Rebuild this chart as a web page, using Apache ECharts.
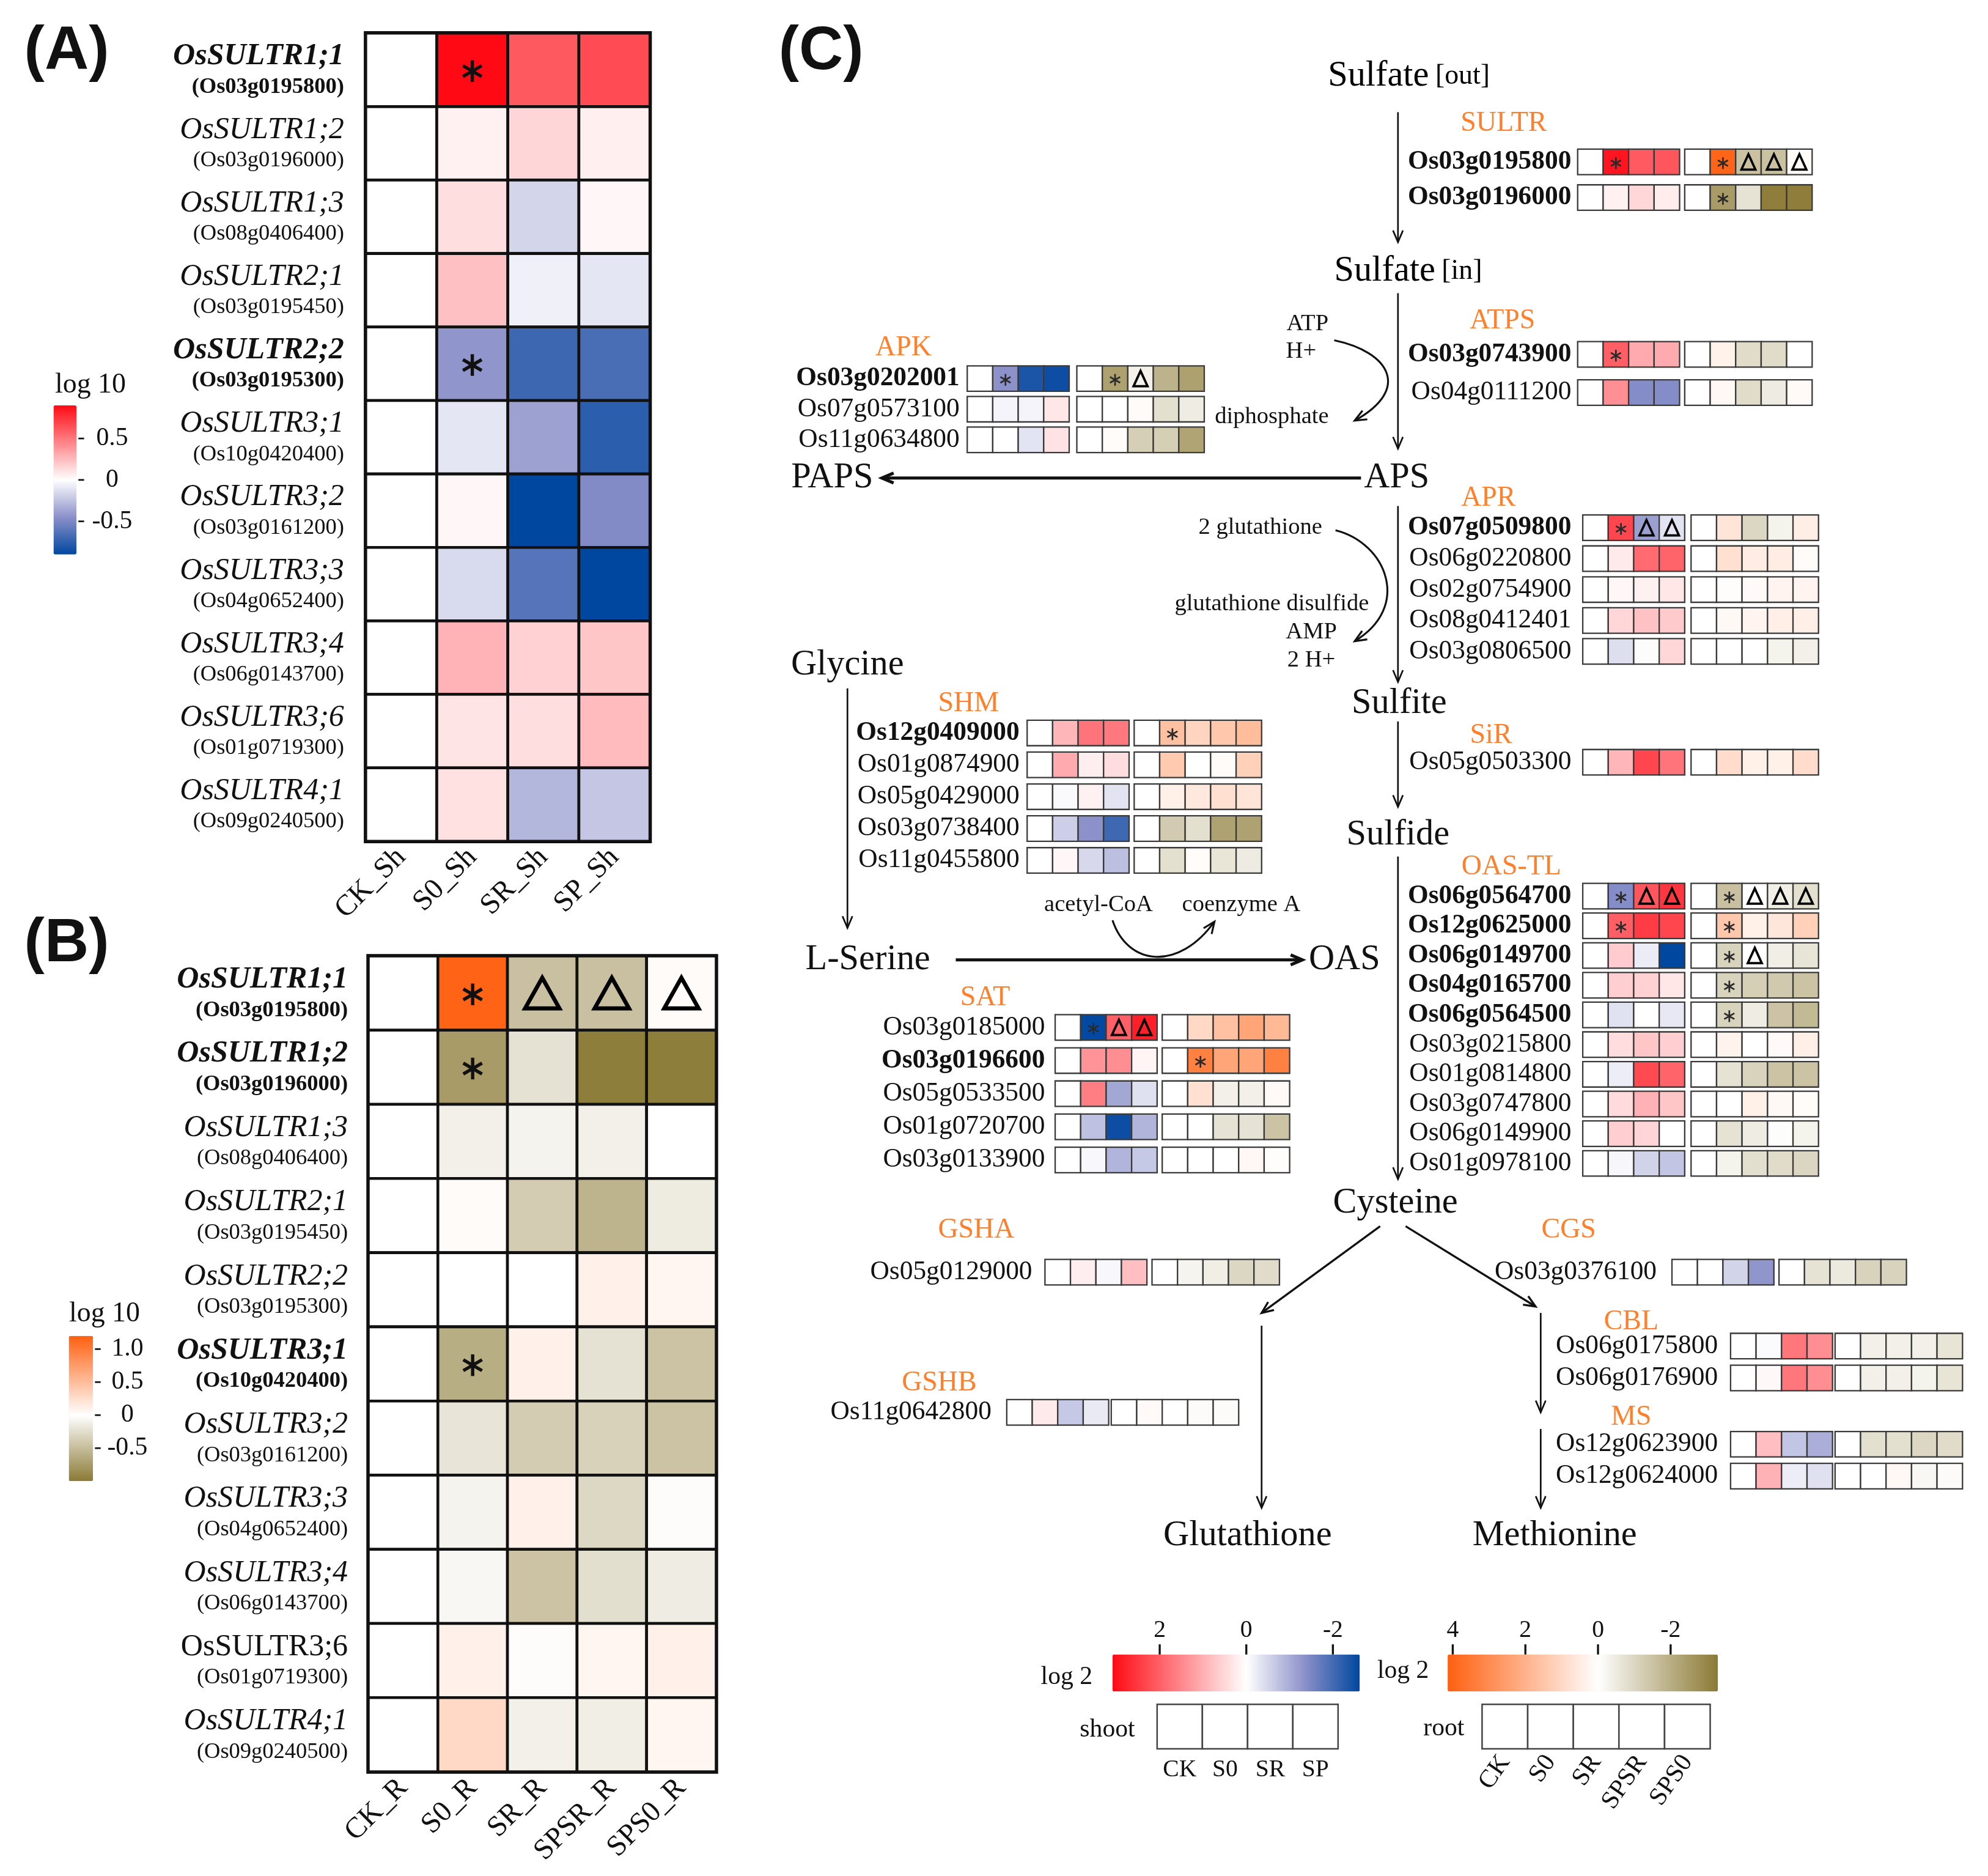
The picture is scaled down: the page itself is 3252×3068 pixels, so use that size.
<!DOCTYPE html>
<html><head><meta charset="utf-8">
<script src="https://cdn.jsdelivr.net/npm/echarts@6/dist/echarts.min.js"></script>
<style>html,body{margin:0;padding:0;background:#fff}#c{width:3252px;height:3068px}</style>
</head><body><div id="c"></div>
<script>
const S = 3252 / 1560, P = v => v * S;
const SERIF = 'Liberation Serif', SANS = 'Liberation Sans', ORANGE = '#ff7f2a';

// ================= DATA =================
// Panels A / B
const sultrNames = ['OsSULTR1;1','OsSULTR1;2','OsSULTR1;3','OsSULTR2;1','OsSULTR2;2','OsSULTR3;1','OsSULTR3;2','OsSULTR3;3','OsSULTR3;4','OsSULTR3;6','OsSULTR4;1'];
const sultrIds = ['Os03g0195800','Os03g0196000','Os08g0406400','Os03g0195450','Os03g0195300','Os10g0420400','Os03g0161200','Os04g0652400','Os06g0143700','Os01g0719300','Os09g0240500'];
const aCats = ['CK_Sh','S0_Sh','SR_Sh','SP_Sh'];
const bCats = ['CK_R','S0_R','SR_R','SPSR_R','SPS0_R'];
const aValues = [
  [0, 0.90, 0.61, 0.66],
  [0, 0.05, 0.15, 0.06],
  [0, 0.12, -0.17, 0.03],
  [0, 0.23, -0.06, -0.10],
  [0, -0.43, -0.70, -0.66],
  [0, -0.10, -0.38, -0.76],
  [0, 0.03, -0.90, -0.48],
  [0, -0.15, -0.62, -0.90],
  [0, 0.28, 0.17, 0.21],
  [0, 0.10, 0.12, 0.25],
  [0, 0.11, -0.29, -0.23]
];
const aMarks = ['.*..','....','....','....','.*..','....','....','....','....','....','....'];
const aBold = [1,0,0,0,1,0,0,0,0,0,0];
const bValues = [
  [0, 1.17, -0.47, -0.47, 0.03],
  [0, -0.75, -0.22, -0.97, -0.97],
  [0, -0.11, -0.09, -0.11, 0],
  [0, 0.03, -0.38, -0.57, -0.15],
  [0, 0, 0, 0.11, 0.07],
  [0, -0.61, 0.11, -0.22, -0.45],
  [0, -0.20, -0.38, -0.34, -0.45],
  [0, -0.09, 0.11, -0.29, -0.02],
  [0, -0.06, -0.45, -0.24, -0.14],
  [0, 0.11, -0.02, 0.07, 0.11],
  [0, 0.29, -0.11, -0.13, 0.07]
];
const bMarks = ['.*DDD','.*...','.....','.....','.....','.*...','.....','.....','.....','.....','.....'];
const bBold = [1,1,0,0,0,1,0,0,0,0,0];
const bUpright = [0,0,0,0,0,0,0,0,0,1,0];
const aTicks = [0.5, 0, -0.5], aTickLabels = ['0.5','0','-0.5'];
const bTicks = [1.0, 0.5, 0, -0.5], bTickLabels = ['1.0','0.5','0','-0.5'];

// Panel C
const shootCats = ['CK','S0','SR','SP'];
const rootCats = ['CK','S0','SR','SPSR','SPS0'];
const cShootTicks = [2, 0, -2];
const cRootTicks = [4, 2, 0, -2];

const sultrGenes = ['Os03g0195800','Os03g0196000'];
const sultrBold = [1,1];
const sultrShoot = [[0,2.95,2.08,2.14],[0,0.18,0.51,0.24]];
const sultrRoot = [[0,4.0,-1.55,-1.55,0.1],[0,-2.47,-0.71,-3.2,-3.2]];
const sultrSM = ['.*..','....'], sultrRM = ['.*DDD','.*...'];

const atpsGenes = ['Os03g0743900','Os04g0111200'];
const atpsBold = [1,0];
const atpsShoot = [[0,2.02,1.07,1.07],[0,1.41,-1.41,-1.41]];
const atpsRoot = [[0,0.34,-0.88,-0.88,0],[0,0.18,-0.88,-0.48,0.13]];
const atpsSM = ['.*..','....'], atpsRM = ['.....','.....'];

const apkGenes = ['Os03g0202001','Os07g0573100','Os11g0634800'];
const apkBold = [1,0,0];
const apkShoot = [[0,-1.34,-2.38,-2.5],[0,-0.13,-0.13,0.32],[0,0,-0.33,0.36]];
const apkRoot = [[0,-2.33,-0.34,-1.9,-2.33],[0,0,0.1,-0.77,-0.46],[0,0.08,-1.2,-1.2,-2.25]];
const apkSM = ['.*..','....','....'], apkRM = ['.*D..','.....','.....'];

const aprGenes = ['Os07g0509800','Os06g0220800','Os02g0754900','Os08g0412401','Os03g0806500'];
const aprBold = [1,0,0,0,0];
const aprShoot = [[0,2.34,-1.15,-0.33],[0,0.26,1.87,1.95],[0,0.11,0.18,0.31],[0,0.51,0.77,0.67],[0,-0.39,-0.04,0.51]];
const aprRoot = [[0,0.67,-1.0,-0.31,0.44],[0,0.8,0.46,0.46,0.1],[0,0.05,0.13,0.28,0.28],[0,0.15,0.28,0.41,0.41],[0,0,0,-0.31,-0.37]];
const aprSM = ['.*DD','....','....','....','....'], aprRM = ['.....','.....','.....','.....','.....'];

const sirGenes = ['Os05g0503300'];
const sirBold = [0];
const sirShoot = [[0,0.92,2.34,1.75]];
const sirRoot = [[0,0.9,0.39,0.39,0.9]];
const sirSM = ['....'], sirRM = ['.....'];

const oastlGenes = ['Os06g0564700','Os12g0625000','Os06g0149700','Os04g0165700','Os06g0564500','Os03g0215800','Os01g0814800','Os03g0747800','Os06g0149900','Os01g0978100'];
const oastlBold = [1,1,1,1,1,0,0,0,0,0];
const oastlShoot = [
  [0,-1.41,2.14,2.53],[0,2.02,2.47,2.34],[0,0.65,-0.23,-2.62],[0,0.62,0.58,0.31],[0,-0.35,0,-0.28],
  [0,0.43,0.72,0.62],[0,-0.22,2.28,1.95],[0,0.45,0.97,0.72],[0,0.62,0.53,0],[0,-0.11,-0.54,-0.71]
];
const oastlRoot = [
  [0,-1.56,0,-0.43,-0.77],[0,1.42,0.39,0.64,1.21],[0,-1.1,0,-0.43,-0.65],[0,-1.1,-1.2,-1.34,-1.48],[0,-1.1,-0.46,-1.48,-1.73],
  [0,0.31,0,0.13,0.41],[0,-0.71,-1.1,-1.48,-1.48],[0,0,0.39,0.15,0.08],[0,-0.71,-0.46,-0.05,-0.31],[0,-0.31,-0.8,-0.88,-1.02]
];
const oastlSM = ['.*DD','.*..','....','....','....','....','....','....','....','....'];
const oastlRM = ['.*DDD','.*...','.*D..','.*...','.*...','.....','.....','.....','.....','.....'];

const shmGenes = ['Os12g0409000','Os01g0874900','Os05g0429000','Os03g0738400','Os11g0455800'];
const shmBold = [1,0,0,0,0];
const shmShoot = [[0,0.92,1.75,1.7],[0,1.07,0.21,0.43],[0,-0.06,0.18,-0.33],[0,-0.58,-1.34,-2.05],[0,0.11,-0.47,-0.78]];
const shmRoot = [[0,1.62,1.1,1.42,1.73],[0,1.37,0,0.1,1.21],[0,0.39,0.59,0.8,0.7],[0,-1.28,-0.77,-2.3,-2.3],[0,-0.77,0.08,-0.63,-0.48]];
const shmSM = ['....','....','....','....','....'], shmRM = ['.*...','.....','.....','.....','.....'];

const satGenes = ['Os03g0185000','Os03g0196600','Os05g0533500','Os01g0720700','Os03g0133900'];
const satBold = [0,1,0,0,0];
const satShoot = [[0,-2.58,2.02,2.83],[0,1.36,1.43,0.13],[0,1.63,-1.07,-0.37],[0,-0.76,-2.5,-0.91],[0,-0.08,-0.91,-0.66]];
const satRoot = [[0,1.0,1.62,2.35,1.83],[0,3.27,2.35,2.35,3.27],[0,0.8,-0.37,-0.37,0.13],[0,0,-0.71,-0.71,-1.48],[0,0,0,0.18,0.05]];
const satSM = ['.*DD','....','....','....','....'], satRM = ['.....','.*...','.....','.....','.....'];

const gshaGenes = ['Os05g0129000'];
const gshaBold = [0];
const gshaShoot = [[0,0.21,-0.08,0.82]];
const gshaRoot = [[0,-0.28,-0.43,-1.0,-0.88]];

const cgsGenes = ['Os03g0376100'];
const cgsBold = [0];
const cgsShoot = [[0,0,-0.52,-1.29]];
const cgsRoot = [[0,-0.71,-0.54,-1.1,-1.1]];

const gshbGenes = ['Os11g0642800'];
const gshbBold = [0];
const gshbShoot = [[0,0.26,-0.66,-0.25]];
const gshbRoot = [[0,0.13,0,-0.09,-0.09]];

const cblGenes = ['Os06g0175800','Os06g0176900'];
const cblBold = [0,0];
const cblShoot = [[0,-0.05,1.73,1.43],[0,0.09,1.73,1.43]];
const cblRoot = [[0,-0.37,-0.37,-0.37,-0.65],[0,-0.37,-0.37,-0.31,-0.65]];

const msGenes = ['Os12g0623900','Os12g0624000'];
const msBold = [0,0];
const msShoot = [[0,0.82,-0.71,-0.98],[0,0.97,-0.22,-0.37]];
const msRoot = [[0,-0.77,-0.77,-1.0,-0.88],[0,0,0.18,-0.2,-0.09]];

// ================= COLOUR SCALES =================
const vmA = {min:-0.9, max:0.9, stops:[[-0.9,'#0047a0'],[-0.45,'#8b90c9'],[0,'#ffffff'],[0.9,'#ff0a14']]};
const vmB = {min:-1.0, max:1.2, stops:[[-1.0,'#8b7a35'],[0,'#ffffff'],[1.2,'#ff6010']]};
const vmCs = {min:-2.62, max:3.09, stops:[[-2.62,'#0047a0'],[-1.35,'#8b90c9'],[0,'#ffffff'],[3.09,'#ff0a14']]};
const vmCr = {min:-3.3, max:4.14, stops:[[-3.3,'#8b7a35'],[0,'#ffffff'],[4.14,'#ff6010']]};

function hex2rgb(h){return [parseInt(h.slice(1,3),16),parseInt(h.slice(3,5),16),parseInt(h.slice(5,7),16)];}
function interp(stops, v){
  if (v <= stops[0][0]) return stops[0][1];
  for (let i = 1; i < stops.length; i++) {
    if (v <= stops[i][0] + 1e-9) {
      const v0 = stops[i-1][0], v1 = stops[i][0];
      const a = hex2rgb(stops[i-1][1]), b = hex2rgb(stops[i][1]);
      const t = Math.min(1, Math.max(0, (v - v0) / (v1 - v0)));
      return 'rgb(' + a.map((x,k) => Math.round(x + (b[k]-x)*t)).join(',') + ')';
    }
  }
  return stops[stops.length-1][1];
}
// sample the gradient every 0.01 so that the value 0 falls exactly on a white sample
function ramp(vm){
  const n = Math.round((vm.max - vm.min) / 0.01) + 1, out = [];
  for (let i = 0; i < n; i++) out.push(interp(vm.stops, vm.min + (vm.max - vm.min) * i / (n - 1)));
  return out;
}

// ================= BUILDERS =================
const grids = [], xAxes = [], yAxes = [], series = [], G = [];
const toCells = rows => rows.flatMap((r, y) => r.map((v, x) => [x, y, v]));

function cellRenderer(marks, o){
  return function(params, api){
    const xi = api.value(0), yi = api.value(1);
    const c = api.coord([xi, yi]), s = api.size([1, 1]);
    const w = s[0], h = o.full ? s[1] : Math.min(o.h, s[1] - P(3));
    const fill = o.fixed || api.visual('color');
    const ch = [{type:'rect', shape:{x:c[0]-w/2, y:c[1]-h/2, width:w, height:h}, style:{fill, stroke:o.stroke, lineWidth:o.lw}}];
    const m = marks ? (marks[yi] || '')[xi] : '';
    if (m === '*') {
      for (const ang of [90, 30, 150]) {
        const a = ang * Math.PI / 180;
        ch.push({type:'line', shape:{x1:c[0]-o.ar*Math.cos(a), y1:c[1]+o.ady-o.ar*Math.sin(a), x2:c[0]+o.ar*Math.cos(a), y2:c[1]+o.ady+o.ar*Math.sin(a)}, style:{stroke:o.ac, lineWidth:o.aw}});
      }
    }
    if (m === 'D') {
      ch.push({type:'polygon', shape:{points:[[c[0], c[1]-o.th/2], [c[0]-o.tw/2, c[1]+o.th/2], [c[0]+o.tw/2, c[1]+o.th/2]]}, style:{fill:'none', stroke:'#000', lineWidth:o.tl}});
    }
    return {type:'group', children:ch};
  };
}

function T(x, y, text, size, o){
  o = o || {};
  G.push({type:'text', x:P(x), y:P(y), z:10, style:{text, fontFamily:o.font || SERIF, fontSize:P(size), fontWeight:o.bold ? 'bold' : 'normal', fill:o.fill || '#111', align:o.align || 'center', verticalAlign:'middle'}});
}
function Ln(x1, y1, x2, y2, w){ G.push({type:'line', shape:{x1:P(x1), y1:P(y1), x2:P(x2), y2:P(y2)}, style:{stroke:'#111', lineWidth:P(w || 1.3)}}); }
function Head(x, y, dx, dy, w){
  const a = Math.atan2(dy, dx), L = 10, sp = 0.40;
  const pts = [[x - L*Math.cos(a-sp), y - L*Math.sin(a-sp)], [x, y], [x - L*Math.cos(a+sp), y - L*Math.sin(a+sp)]].map(p => [P(p[0]), P(p[1])]);
  G.push({type:'polyline', shape:{points:pts}, style:{stroke:'#111', lineWidth:P(w || 1.3), fill:'none'}});
}
function Arrow(x1, y1, x2, y2, w){ Ln(x1, y1, x2, y2, w); Head(x2, y2, x2-x1, y2-y1, w); }
function Curve(x1, y1, c1x, c1y, c2x, c2y, x2, y2, w){
  G.push({type:'bezierCurve', shape:{x1:P(x1), y1:P(y1), cpx1:P(c1x), cpy1:P(c1y), cpx2:P(c2x), cpy2:P(c2y), x2:P(x2), y2:P(y2)}, style:{stroke:'#111', lineWidth:P(w || 1.3), fill:'none'}});
  Head(x2, y2, x2-c2x, y2-c2y, w);
}

// ---------- Panel A ----------
const richAB = {
  nb:{fontFamily:SERIF, fontStyle:'italic', fontWeight:'bold', fontSize:P(24), lineHeight:P(27), color:'#111'},
  ni:{fontFamily:SERIF, fontStyle:'italic', fontSize:P(24), lineHeight:P(27), color:'#111'},
  nr:{fontFamily:SERIF, fontSize:P(24), lineHeight:P(27), color:'#111'},
  ib:{fontFamily:SERIF, fontWeight:'bold', fontSize:P(17.5), lineHeight:P(21), color:'#111'},
  ir:{fontFamily:SERIF, fontSize:P(17.5), lineHeight:P(21), color:'#111'}
};
const ABcell = {full:true, stroke:'#111', lw:P(2.2), ar:P(8.5), aw:P(2.6), ady:P(1), ac:'#111', tw:P(27), th:P(24), tl:P(3.2)};

grids.push({left:P(287), top:P(26), width:P(223), height:P(634), show:true, borderColor:'#000', borderWidth:P(3)});
xAxes.push({type:'category', gridIndex:0, data:aCats, axisLine:{show:false}, axisTick:{show:false},
  axisLabel:{rotate:45, interval:0, margin:P(9), fontFamily:SERIF, fontSize:P(23), color:'#111'}});
yAxes.push({type:'category', gridIndex:0, data:sultrNames, inverse:true, axisLine:{show:false}, axisTick:{show:false},
  axisLabel:{interval:0, margin:P(17), align:'right', rich:richAB,
    formatter:(v, i) => aBold[i] ? `{nb|${v}}\n{ib|(${sultrIds[i]})}` : `{ni|${v}}\n{ir|(${sultrIds[i]})}`}});
series.push({type:'custom', xAxisIndex:0, yAxisIndex:0, encode:{x:0, y:1}, data:toCells(aValues), renderItem:cellRenderer(aMarks, ABcell)});
const idxA = series.length - 1;

// ---------- Panel B ----------
grids.push({left:P(289), top:P(750), width:P(273), height:P(640), show:true, borderColor:'#000', borderWidth:P(3)});
xAxes.push({type:'category', gridIndex:1, data:bCats, axisLine:{show:false}, axisTick:{show:false},
  axisLabel:{rotate:45, interval:0, margin:P(9), fontFamily:SERIF, fontSize:P(23), color:'#111'}});
yAxes.push({type:'category', gridIndex:1, data:sultrNames, inverse:true, axisLine:{show:false}, axisTick:{show:false},
  axisLabel:{interval:0, margin:P(16), align:'right', rich:richAB,
    formatter:(v, i) => bBold[i] ? `{nb|${v}}\n{ib|(${sultrIds[i]})}` : (bUpright[i] ? `{nr|${v}}\n{ir|(${sultrIds[i]})}` : `{ni|${v}}\n{ir|(${sultrIds[i]})}`)}});
series.push({type:'custom', xAxisIndex:1, yAxisIndex:1, encode:{x:0, y:1}, data:toCells(bValues), renderItem:cellRenderer(bMarks, ABcell)});
const idxB = series.length - 1;

// ---------- Panel C blocks ----------
const LAYOUT = {
  SULTR:   {lx:1180, ly:97,  lr:1233, sx:1238, rx:1322, y0:127,  sp:28},
  ATPS:    {lx:1179, ly:252, lr:1233, sx:1238, rx:1322, y0:278,  sp:30},
  APK:     {lx:709,  ly:273, lr:753,  sx:759,  rx:845,  y0:297,  sp:24},
  APR:     {lx:1168, ly:391, lr:1233, sx:1242, rx:1327, y0:414,  sp:24.25},
  SiR:     {lx:1170, ly:577, lr:1233, sx:1242, rx:1327, y0:598,  sp:24},
  'OAS-TL':{lx:1186, ly:680, lr:1233, sx:1242, rx:1327, y0:703,  sp:23.3},
  SHM:     {lx:760,  ly:552, lr:800,  sx:806,  rx:890,  y0:575,  sp:25},
  SAT:     {lx:773,  ly:783, lr:820,  sx:828,  rx:912,  y0:806,  sp:26},
  GSHA:    {lx:766,  ly:965, lr:810,  sx:820,  rx:904,  y0:998,  sp:25},
  CGS:     {lx:1231, ly:965, lr:1300, sx:1312, rx:1396, y0:998,  sp:25},
  GSHB:    {lx:737,  ly:1085,lr:778,  sx:790,  rx:872,  y0:1108, sp:25},
  CBL:     {lx:1280, ly:1037,lr:1348, sx:1358, rx:1440, y0:1056, sp:25},
  MS:      {lx:1280, ly:1112,lr:1348, sx:1358, rx:1440, y0:1133, sp:25}
};
const Ccell = {full:false, h:P(20), stroke:'#3a3a3a', lw:P(1.1), ar:P(4.6), aw:P(1.3), ady:P(1), ac:'#2a2a2a', tw:P(11), th:P(12), tl:P(1.8)};
const shootIdx = [], rootIdx = [];
function addBlock(key, genes, bold, shoot, root, sm, rm){
  const L = LAYOUT[key], n = genes.length;
  const top = P(L.y0 - L.sp/2), h = P(n * L.sp);
  grids.push({left:P(L.sx), top, width:P(80), height:h});
  let gi = grids.length - 1;
  xAxes.push({type:'category', gridIndex:gi, data:shootCats, show:false});
  yAxes.push({type:'category', gridIndex:gi, data:genes, inverse:true, axisLine:{show:false}, axisTick:{show:false},
    axisLabel:{interval:0, margin:P(L.sx - L.lr), formatter:(v, i) => bold[i] ? `{b|${v}}` : `{r|${v}}`,
      rich:{b:{fontFamily:SERIF, fontWeight:'bold', fontSize:P(20.8), color:'#111'}, r:{fontFamily:SERIF, fontSize:P(20.8), color:'#111'}}}});
  series.push({type:'custom', xAxisIndex:gi, yAxisIndex:gi, encode:{x:0, y:1}, data:toCells(shoot), renderItem:cellRenderer(sm, Ccell)});
  shootIdx.push(series.length - 1);
  grids.push({left:P(L.rx), top, width:P(100), height:h});
  gi = grids.length - 1;
  xAxes.push({type:'category', gridIndex:gi, data:rootCats, show:false});
  yAxes.push({type:'category', gridIndex:gi, data:genes, inverse:true, show:false});
  series.push({type:'custom', xAxisIndex:gi, yAxisIndex:gi, encode:{x:0, y:1}, data:toCells(root), renderItem:cellRenderer(rm, Ccell)});
  rootIdx.push(series.length - 1);
  T(L.lx, L.ly, key, 22, {fill:ORANGE});
}
addBlock('SULTR', sultrGenes, sultrBold, sultrShoot, sultrRoot, sultrSM, sultrRM);
addBlock('ATPS', atpsGenes, atpsBold, atpsShoot, atpsRoot, atpsSM, atpsRM);
addBlock('APK', apkGenes, apkBold, apkShoot, apkRoot, apkSM, apkRM);
addBlock('APR', aprGenes, aprBold, aprShoot, aprRoot, aprSM, aprRM);
addBlock('SiR', sirGenes, sirBold, sirShoot, sirRoot, sirSM, sirRM);
addBlock('OAS-TL', oastlGenes, oastlBold, oastlShoot, oastlRoot, oastlSM, oastlRM);
addBlock('SHM', shmGenes, shmBold, shmShoot, shmRoot, shmSM, shmRM);
addBlock('SAT', satGenes, satBold, satShoot, satRoot, satSM, satRM);
addBlock('GSHA', gshaGenes, gshaBold, gshaShoot, gshaRoot, null, null);
addBlock('CGS', cgsGenes, cgsBold, cgsShoot, cgsRoot, null, null);
addBlock('GSHB', gshbGenes, gshbBold, gshbShoot, gshbRoot, null, null);
addBlock('CBL', cblGenes, cblBold, cblShoot, cblRoot, null, null);
addBlock('MS', msGenes, msBold, msShoot, msRoot, null, null);

// legend boxes (shoot / root)
const legCell = {full:true, fixed:'#ffffff', stroke:'#444', lw:P(1.2)};
grids.push({left:P(908), top:P(1337), width:P(142), height:P(35)});
let lg = grids.length - 1;
xAxes.push({type:'category', gridIndex:lg, data:shootCats, axisLine:{show:false}, axisTick:{show:false},
  axisLabel:{interval:0, margin:P(7), fontFamily:SERIF, fontSize:P(19), color:'#111'}});
yAxes.push({type:'category', gridIndex:lg, data:['shoot'], show:false});
series.push({type:'custom', xAxisIndex:lg, yAxisIndex:lg, encode:{x:0, y:1}, data:shootCats.map((c, i) => [i, 0]), renderItem:cellRenderer(null, legCell)});
grids.push({left:P(1163), top:P(1337), width:P(179), height:P(35)});
lg = grids.length - 1;
xAxes.push({type:'category', gridIndex:lg, data:rootCats, axisLine:{show:false}, axisTick:{show:false},
  axisLabel:{interval:0, rotate:55, margin:P(7), fontFamily:SERIF, fontSize:P(20), color:'#111'}});
yAxes.push({type:'category', gridIndex:lg, data:['root'], show:false});
series.push({type:'custom', xAxisIndex:lg, yAxisIndex:lg, encode:{x:0, y:1}, data:rootCats.map((c, i) => [i, 0]), renderItem:cellRenderer(null, legCell)});

// ---------- colour bars ----------
const BAR = {
  A: {left:42, top:318, thick:18, len:117},
  B: {left:54, top:1048, thick:19, len:114},
  Cs:{left:873, top:1298, thick:29, len:194},
  Cr:{left:1136, top:1298, thick:29, len:212}
};
const visualMap = [
  {type:'continuous', seriesIndex:[idxA], dimension:2, min:vmA.min, max:vmA.max, orient:'vertical', left:P(BAR.A.left), top:P(BAR.A.top), itemWidth:P(BAR.A.thick), itemHeight:P(BAR.A.len), padding:0, calculable:false, hoverLink:false, inRange:{color:ramp(vmA)}},
  {type:'continuous', seriesIndex:[idxB], dimension:2, min:vmB.min, max:vmB.max, orient:'vertical', left:P(BAR.B.left), top:P(BAR.B.top), itemWidth:P(BAR.B.thick), itemHeight:P(BAR.B.len), padding:0, calculable:false, hoverLink:false, inRange:{color:ramp(vmB)}},
  {type:'continuous', seriesIndex:shootIdx, dimension:2, min:vmCs.min, max:vmCs.max, orient:'horizontal', inverse:true, left:P(BAR.Cs.left), top:P(BAR.Cs.top), itemWidth:P(BAR.Cs.thick), itemHeight:P(BAR.Cs.len), padding:0, calculable:false, hoverLink:false, inRange:{color:ramp(vmCs)}},
  {type:'continuous', seriesIndex:rootIdx, dimension:2, min:vmCr.min, max:vmCr.max, orient:'horizontal', inverse:true, left:P(BAR.Cr.left), top:P(BAR.Cr.top), itemWidth:P(BAR.Cr.thick), itemHeight:P(BAR.Cr.len), padding:0, calculable:false, hoverLink:false, inRange:{color:ramp(vmCr)}}
];
function vTicks(bar, vm, ticks, labels, lx){
  ticks.forEach((v, i) => {
    const y = bar.top + (vm.max - v) / (vm.max - vm.min) * bar.len;
    Ln(bar.left + bar.thick + 1.5, y, bar.left + bar.thick + 6, y, 1.3);
    T(lx, y, labels[i], 20);
  });
}
function hTicks(bar, vm, ticks){
  ticks.forEach(v => {
    const x = bar.left + (vm.max - v) / (vm.max - vm.min) * bar.len;
    Ln(x, bar.top - 8, x, bar.top, 1.6);
    T(x, bar.top - 19, String(v), 19);
  });
}
vTicks(BAR.A, vmA, aTicks, aTickLabels, 88);
vTicks(BAR.B, vmB, bTicks, bTickLabels, 100);
hTicks(BAR.Cs, vmCs, cShootTicks);
hTicks(BAR.Cr, vmCr, cRootTicks);
T(71, 302, 'log 10', 22);
T(82, 1031, 'log 10', 22);
T(837, 1316, 'log 2', 20);
T(1101, 1311, 'log 2', 20);
T(869, 1357, 'shoot', 20);
T(1133, 1356, 'root', 20);

// ---------- panel letters ----------
T(19, 41, '(A)', 48, {font:SANS, bold:true, align:'left'});
T(19, 741, '(B)', 48, {font:SANS, bold:true, align:'left'});
T(611, 41, '(C)', 48, {font:SANS, bold:true, align:'left'});

// ---------- pathway ----------
const rich2 = {a:{fontFamily:SERIF, fontSize:P(28), color:'#111'}, b:{fontFamily:SERIF, fontSize:P(22), color:'#111', padding:[0, 0, 0, P(5)]}};
G.push({type:'text', x:P(1042), y:P(60), style:{text:'{a|Sulfate}{b|[out]}', rich:rich2, align:'left', verticalAlign:'middle'}});
G.push({type:'text', x:P(1047), y:P(213), style:{text:'{a|Sulfate}{b|[in]}', rich:rich2, align:'left', verticalAlign:'middle'}});
T(1096, 375, 'APS', 28);
T(653, 375, 'PAPS', 28);
T(1098, 552, 'Sulfite', 28);
T(1097, 655, 'Sulfide', 28);
T(1055, 753, 'OAS', 28);
T(681, 753, 'L-Serine', 28);
T(665, 522, 'Glycine', 28);
T(1095, 944, 'Cysteine', 28);
T(979, 1205, 'Glutathione', 28);
T(1220, 1205, 'Methionine', 28);
T(1026, 254, 'ATP', 18.5);
T(1021, 276, 'H+', 18.5);
T(998, 327, 'diphosphate', 18.5);
T(989, 414, '2 glutathione', 18.5);
T(998, 474, 'glutathione disulfide', 18.5);
T(1029, 496, 'AMP', 18.5);
T(1029, 518, '2 H+', 18.5);
T(862, 710, 'acetyl-CoA', 18.5);
T(974, 710, 'coenzyme A', 18.5);

Arrow(1097, 88, 1097, 190);
Arrow(1097, 230, 1097, 352);
Arrow(1097, 397, 1097, 535);
Arrow(1097, 566, 1097, 633);
Arrow(1097, 672, 1097, 925);
Arrow(1068, 375, 692, 375, 2.4);
Arrow(665, 540, 665, 728);
Arrow(750, 753, 1022, 753, 2.4);
Arrow(1083, 962, 990, 1030, 1.6);
Arrow(1103, 962, 1205, 1025, 1.6);
Arrow(990, 1040, 990, 1183);
Arrow(1209, 1030, 1209, 1108);
Arrow(1209, 1121, 1209, 1183);
Curve(1047, 267, 1090, 276, 1108, 305, 1063, 330, 1.5);
Curve(1048, 416, 1088, 426, 1108, 476, 1063, 503, 1.5);
Curve(873, 722, 885, 758, 925, 762, 953, 723, 1.5);

const chart = echarts.init(document.getElementById('c'), null, {renderer:'canvas'});
chart.setOption({
  animation:false, backgroundColor:'#ffffff',
  grid:grids, xAxis:xAxes, yAxis:yAxes, series, visualMap,
  graphic:{elements:G}
});
</script></body></html>
